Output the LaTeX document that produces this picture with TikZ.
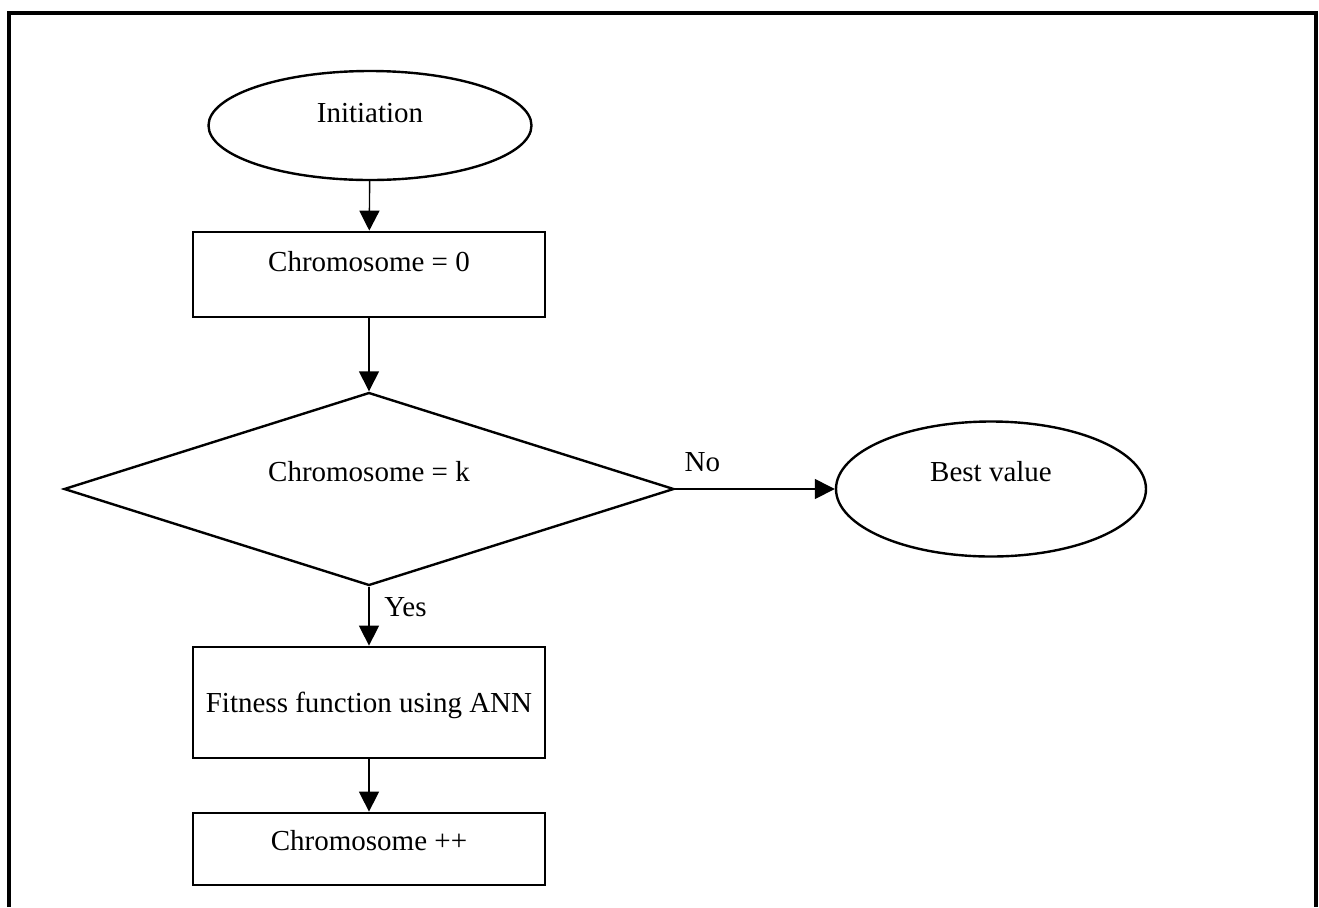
\documentclass[tikz,border=0pt]{standalone}
\usepackage{fontspec}
\setmainfont{Liberation Serif}
\usetikzlibrary{arrows.meta,shapes}

\begin{document}
\begin{tikzpicture}[x=0.5pt, y=-0.5pt, font=\fontsize{14.5}{17}\selectfont,
  flow/.style={draw, line width=0.7pt, -{Triangle[width=10pt,length=10pt]}},
  oval/.style={ellipse, draw, line width=1.2pt, inner sep=0pt, text height=10pt},
  box/.style={rectangle, draw, line width=1.4pt, minimum width=176pt, inner sep=0pt, text height=10pt},
  test/.style={diamond, aspect=3, draw, line width=1.2pt, minimum width=305pt, minimum height=96.5pt, inner sep=0pt, text height=10pt}]

\useasboundingbox (0,0) rectangle (1319,907);
\draw[line width=1.6pt] (9,907) -- (9,13) -- (1316,13) -- (1316,907);

\node[oval, minimum width=161.5pt, minimum height=54.5pt, text depth=13.4pt] (init) at (370,125.5) {Initiation};
\node[box, minimum height=42.5pt, text depth=12.9pt] (zero) at (369,274.5) {Chromosome = 0};
\node[test, text depth=17.4pt] (cond) at (369,489) {Chromosome = k};
\node[oval, minimum width=155pt, minimum height=67.5pt, text depth=17.4pt] (best) at (991,489) {Best value};
\node[box, minimum height=55.5pt, text depth=0pt] (fit) at (369,702.5) {Fitness function using ANN};
\node[box, minimum height=36pt, text depth=8.4pt] (inc) at (369,849) {Chromosome ++};

\draw[flow] (init) -- (zero);
\draw[flow] (zero) -- (cond);
\draw[flow] (cond.east) -- node[pos=0.17, above=5pt] (nolbl) {No} (best.west);
\draw[flow] (cond) -- node[pos=0.35, right=4pt] (yeslbl) {Yes} (fit);
\draw[flow] (fit) -- (inc);

\end{tikzpicture}
\end{document}
